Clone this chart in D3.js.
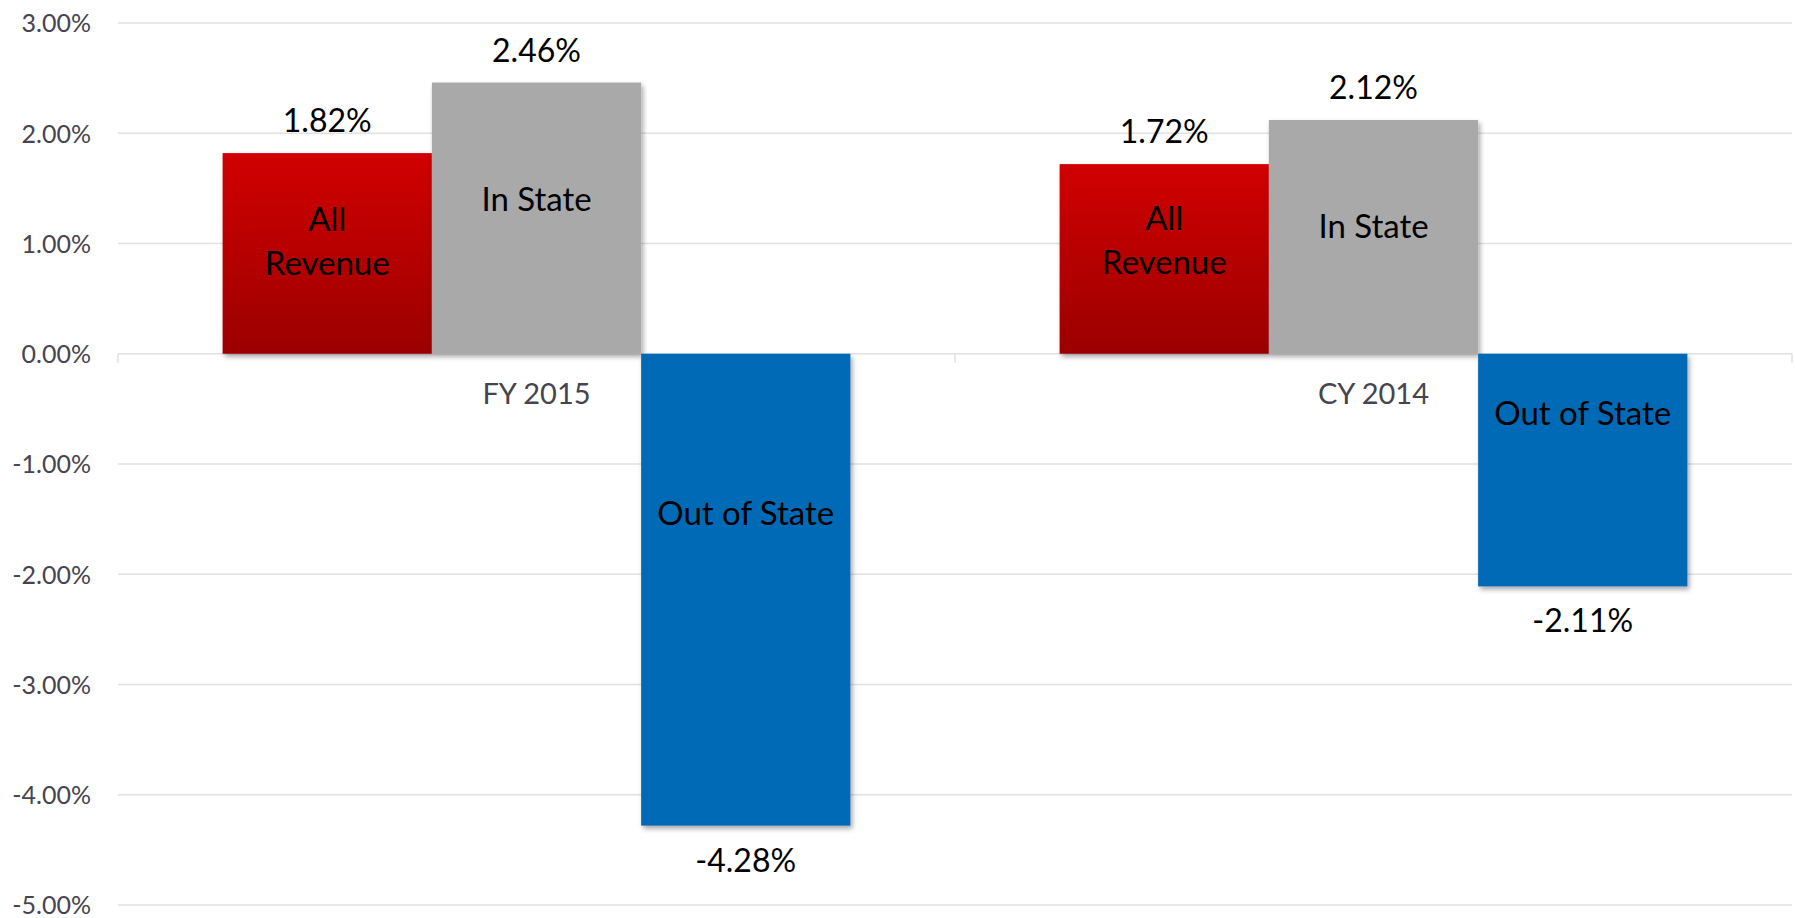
<!DOCTYPE html>
<html>
<head>
<meta charset="utf-8">
<script src="https://cdn.jsdelivr.net/npm/d3@7"></script>
<style>
  body { margin: 0; background: #fff; }
  svg text { font-family: Lato, "Noto Sans", sans-serif; }
</style>
</head>
<body>
<div id="chart"></div>
<script>
'use strict';

const categories = ['FY 2015', 'CY 2014'];
const seriesNames = ['All Revenue', 'In State', 'Out of State'];
const seriesLines = [['All', 'Revenue'], ['In State'], ['Out of State']];
const allRevenue = [1.82, 1.72];
const inState = [2.46, 2.12];
const outOfState = [-4.28, -2.11];
const yTicks = [3, 2, 1, 0, -1, -2, -3, -4, -5];
// where the name sits inside each bar, in percent units (placed by hand in the original)
const allRevenueNameAt = [1.02, 1.03];
const inStateNameAt = [1.40, 1.16];
const outOfStateNameAt = [-1.44, -0.54];

const width = 1795, height = 918;
const margin = { top: 23, right: 3, bottom: 13, left: 118 };

// plain hyphen for negatives, like the original
const pct = d => d3.format('.2f')(d).replace('\u2212', '-') + '%';

const svg = d3.select('#chart').append('svg')
  .attr('width', width)
  .attr('height', height);

const defs = svg.append('defs');
const grad = defs.append('linearGradient')
  .attr('id', 'redGrad')
  .attr('x1', 0).attr('y1', 0).attr('x2', 0).attr('y2', 1);
grad.append('stop').attr('offset', '0%').attr('stop-color', '#d10000');
grad.append('stop').attr('offset', '100%').attr('stop-color', '#9b0000');

const shadow = defs.append('filter')
  .attr('id', 'shadow')
  .attr('x', '-10%').attr('y', '-10%').attr('width', '130%').attr('height', '130%');
shadow.append('feDropShadow')
  .attr('dx', 2).attr('dy', 3)
  .attr('stdDeviation', 2.5)
  .attr('flood-color', '#000')
  .attr('flood-opacity', 0.35);

const x0 = d3.scaleBand()
  .domain(categories)
  .range([margin.left, width - margin.right])
  .paddingInner(0)
  .paddingOuter(0);

const x1 = d3.scaleBand()
  .domain(seriesNames)
  .range([0, x0.bandwidth()])
  .paddingInner(0)
  .paddingOuter(0.5);

const y = d3.scaleLinear()
  .domain([-5, 3])
  .range([height - margin.bottom, margin.top]);

// gridlines
svg.append('g')
  .selectAll('line')
  .data(yTicks)
  .join('line')
  .attr('x1', margin.left)
  .attr('x2', width - margin.right)
  .attr('y1', d => y(d))
  .attr('y2', d => y(d))
  .attr('stroke', '#e1e1e5')
  .attr('stroke-width', 1.5);

// category ticks on the zero line
const catEdges = [...categories.map(c => x0(c)), width - margin.right];
svg.append('g')
  .selectAll('line')
  .data(catEdges)
  .join('line')
  .attr('x1', d => d).attr('x2', d => d)
  .attr('y1', y(0)).attr('y2', y(0) + 9)
  .attr('stroke', '#e1e1e5')
  .attr('stroke-width', 1.5);

// y axis labels
const yAxis = d3.axisLeft(y)
  .tickValues(yTicks)
  .tickSize(0)
  .tickPadding(0)
  .tickFormat(pct);

const yAxisG = svg.append('g')
  .attr('transform', `translate(${margin.left - 27}, 0)`)
  .call(yAxis);
yAxisG.select('.domain').remove();
yAxisG.selectAll('text')
  .attr('fill', '#45444f')
  .style('font-size', '25px')
  .attr('dy', '0.35em');

// bar data
const values = [allRevenue, inState, outOfState];
const nameAt = [allRevenueNameAt, inStateNameAt, outOfStateNameAt];
const fills = ['url(#redGrad)', '#a9a9a9', '#006bb6'];

const bars = [];
categories.forEach((cat, ci) => {
  seriesNames.forEach((s, si) => {
    bars.push({ cat, series: s, si, value: values[si][ci], nameAt: nameAt[si][ci] });
  });
});

const barG = svg.append('g');
barG.selectAll('rect')
  .data(bars)
  .join('rect')
  .attr('x', d => x0(d.cat) + x1(d.series))
  .attr('width', x1.bandwidth())
  .attr('y', d => y(Math.max(0, d.value)))
  .attr('height', d => Math.abs(y(d.value) - y(0)))
  .attr('fill', d => fills[d.si])
  .attr('filter', 'url(#shadow)');

// category labels
svg.append('g')
  .selectAll('text')
  .data(categories)
  .join('text')
  .attr('x', d => x0(d) + x0.bandwidth() / 2)
  .attr('y', y(0) + 50)
  .attr('text-anchor', 'middle')
  .attr('fill', '#45444f')
  .style('font-size', '29px')
  .text(d => d);

// value labels
svg.append('g')
  .selectAll('text')
  .data(bars)
  .join('text')
  .attr('x', d => x0(d.cat) + x1(d.series) + x1.bandwidth() / 2)
  .attr('y', d => d.value >= 0 ? y(d.value) - 21 : y(d.value) + 46)
  .attr('text-anchor', 'middle')
  .attr('fill', '#000')
  .style('font-size', '32px')
  .text(d => pct(d.value));

// series names inside bars
const nameG = svg.append('g')
  .selectAll('text')
  .data(bars)
  .join('text')
  .attr('text-anchor', 'middle')
  .attr('fill', '#000')
  .style('font-size', '33px');

nameG.each(function (d) {
  const lines = seriesLines[d.si];
  const cx = x0(d.cat) + x1(d.series) + x1.bandwidth() / 2;
  const cy = y(d.nameAt);
  d3.select(this).selectAll('tspan')
    .data(lines)
    .join('tspan')
    .attr('x', cx)
    .attr('y', (l, i) => cy + 12 + (i - (lines.length - 1) / 2) * 44)
    .text(l => l);
});
</script>
</body>
</html>
